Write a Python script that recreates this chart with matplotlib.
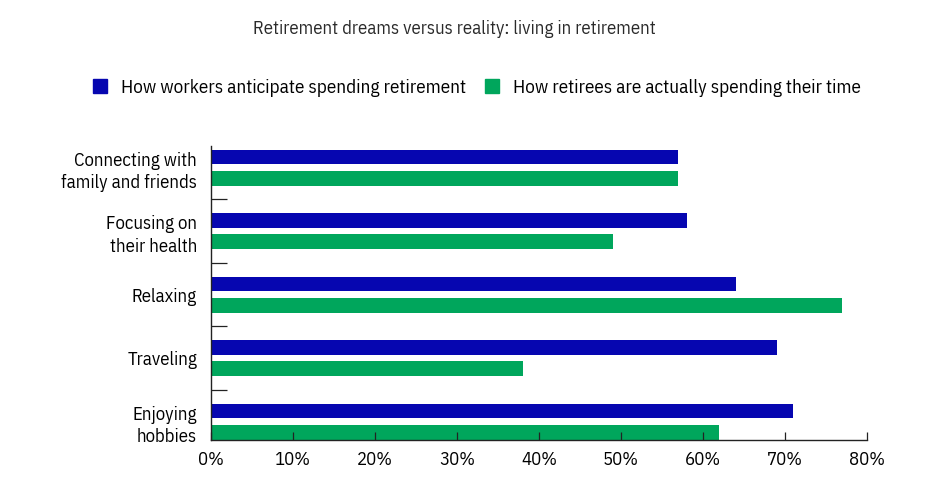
import matplotlib.pyplot as plt
from matplotlib.patches import Patch

plt.rcParams['font.family'] = ['IBM Plex Sans Condensed', 'DejaVu Sans']

# Datos
categorias = ['Connecting with\nfamily and friends', 'Focusing on\ntheir health',
              'Relaxing', 'Traveling', 'Enjoying\nhobbies']
anticipan = [57, 58, 64, 69, 71]
realidad = [57, 49, 77, 38, 62]
nombres_series = ['How workers anticipate spending retirement',
                  'How retirees are actually spending their time']
ticks_x = [0, 10, 20, 30, 40, 50, 60, 70, 80]

azul = '#0606b0'
verde = '#00a65c'

fig = plt.figure(figsize=(9.36, 4.9), dpi=100)
ax = fig.add_axes([211 / 936, 1 - 440 / 490, 656 / 936, 294 / 490])

pos = list(range(len(categorias)))
alto = 0.234
ax.barh([p - 0.166 for p in pos], anticipan, height=alto, color=azul)
ax.barh([p + 0.166 for p in pos], realidad, height=alto, color=verde)

ax.set_xlim(0, 80)
ax.set_ylim(4.29, -0.34)

ax.set_xticks(ticks_x, [f'{t}%' for t in ticks_x])
ax.set_yticks(pos, categorias)
ax.set_yticks([p + 0.5 for p in pos[:-1]], minor=True)

ax.tick_params(axis='x', direction='in', length=6, width=0.9, pad=8,
               labelsize=13.5, color='#222222')
ax.tick_params(axis='y', which='major', length=0, pad=10, labelsize=13.5)
ax.tick_params(axis='y', which='minor', direction='in', length=11.5,
               width=0.9, color='#222222')
for t in ax.get_yticklabels():
    t.set_linespacing(1.35)

for lado in ['top', 'right']:
    ax.spines[lado].set_visible(False)
for lado in ['left', 'bottom']:
    ax.spines[lado].set_linewidth(1.0)
    ax.spines[lado].set_color('#222222')

fig.text(454 / 936, 1 - 29 / 490, 'Retirement dreams versus reality: living in retirement',
         ha='center', va='center', fontsize=13.5, color='#2a2a2a')

manijas = [Patch(color=azul), Patch(color=verde)]
fig.legend(manijas, nombres_series, loc='center', ncol=2, frameon=False,
           bbox_to_anchor=(477 / 936, 1 - 88 / 490), fontsize=13.8,
           handlelength=0.72, handleheight=0.72, handletextpad=0.75,
           columnspacing=1.0, borderaxespad=0)

plt.savefig('out.png', dpi=100)
